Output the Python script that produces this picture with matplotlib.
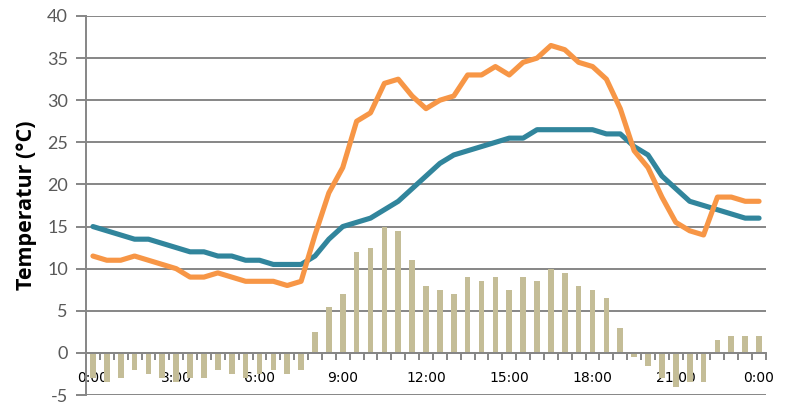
import matplotlib
matplotlib.use("Agg")
import matplotlib.pyplot as plt
import numpy as np

# 30-minute steps from 0:00 to 24:00 (49 categories)
times = [f"{h}:{m:02d}" for h in range(24) for m in (0, 30)] + ["0:00"]

temp_blue = [15, 14.5, 14, 13.5, 13.5, 13, 12.5, 12, 12, 11.5, 11.5, 11, 11, 10.5, 10.5, 10.5,
             11.5, 13.5, 15, 15.5, 16, 17, 18, 19.5, 21, 22.5, 23.5, 24, 24.5, 25, 25.5, 25.5,
             26.5, 26.5, 26.5, 26.5, 26.5, 26, 26, 24.5, 23.5, 21, 19.5, 18, 17.5, 17, 16.5, 16, 16]

temp_orange = [11.5, 11, 11, 11.5, 11, 10.5, 10, 9, 9, 9.5, 9, 8.5, 8.5, 8.5, 8, 8.5,
               14, 19, 22, 27.5, 28.5, 32, 32.5, 30.5, 29, 30, 30.5, 33, 33, 34, 33, 34.5,
               35, 36.5, 36, 34.5, 34, 32.5, 29, 24, 22, 18.5, 15.5, 14.5, 14, 18.5, 18.5, 18, 18]

diff_bars = [-3, -3.5, -3, -2, -2.5, -3, -3.5, -3, -3, -2, -2.5, -3, -2.5, -2, -2.5, -2,
             2.5, 5.5, 7, 12, 12.5, 15, 14.5, 11, 8, 7.5, 7, 9, 8.5, 9, 7.5, 9,
             8.5, 10, 9.5, 8, 7.5, 6.5, 3, -0.5, -1.5, -3, -4, -3.5, -3.5, 1.5, 2, 2, 2]

label_idx = list(range(0, 49, 6))
y_ticks = list(range(-5, 41, 5))

grey = "#868686"
font = "Lato"

fig = plt.figure(figsize=(7.9, 4.03), dpi=100)
ax = fig.add_axes([86 / 790, 8 / 403, 680 / 790, 379 / 403])

x = np.arange(len(times))
ax.bar(x, diff_bars, width=0.41, color="#C4BD97", zorder=2)
ax.plot(x, temp_blue, color="#31859C", lw=3.7, solid_joinstyle="round", solid_capstyle="round", zorder=3)
ax.plot(x, temp_orange, color="#F79646", lw=3.7, solid_joinstyle="round", solid_capstyle="round", zorder=3)

ax.set_xlim(-0.5, len(times) - 0.5)
ax.set_ylim(-5, 40)

ax.set_yticks(y_ticks)
ax.set_yticklabels([str(v) for v in y_ticks], fontsize=13, color="#595959", family=font)
ax.yaxis.grid(True, color=grey, lw=1.4)
ax.tick_params(axis="y", length=7, width=1.4, color=grey, pad=6)

ax.set_xticks(label_idx)
ax.set_xticklabels([times[i] for i in label_idx], fontsize=13, color="#595959", family=font)
ax.set_xticks(np.arange(-0.5, len(times), 1.0), minor=True)
ax.tick_params(axis="x", which="major", length=0, pad=13)
ax.tick_params(axis="x", which="minor", length=5, width=1.4, color=grey, direction="out")

for s in ("top", "right"):
    ax.spines[s].set_visible(False)
ax.spines["left"].set_color(grey)
ax.spines["left"].set_linewidth(1.4)
ax.spines["bottom"].set_position(("data", 0))
ax.spines["bottom"].set_color(grey)
ax.spines["bottom"].set_linewidth(1.4)

ax.set_ylabel("Temperatur (°C)", fontsize=15.5, fontweight="bold", family="Open Sans",
              color="black", labelpad=7)

fig.savefig("out.png", dpi=100)
